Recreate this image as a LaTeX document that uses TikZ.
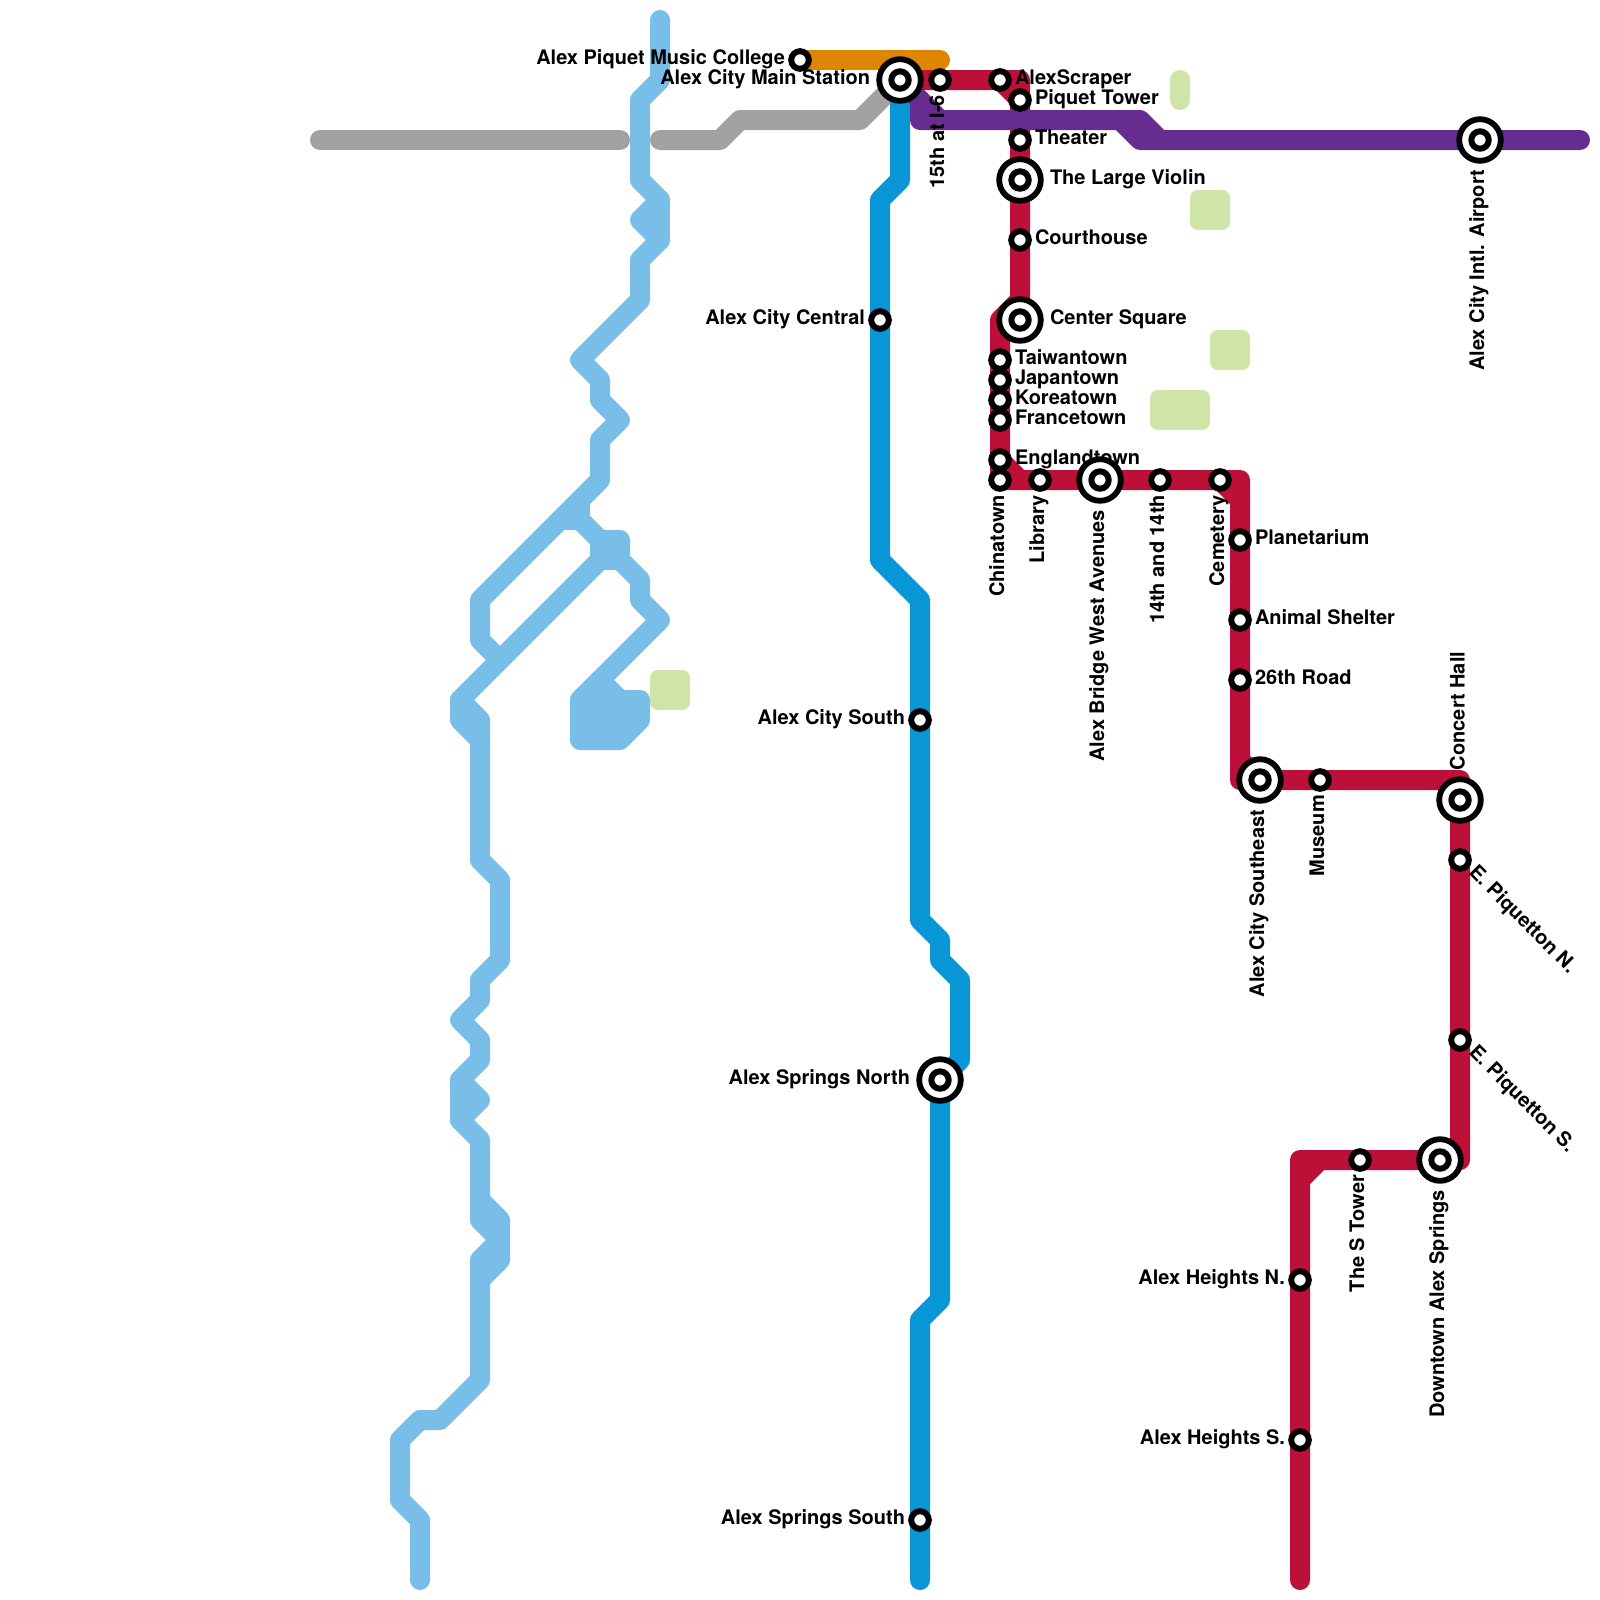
\documentclass[tikz,border=0pt]{standalone}
\usepackage{fontspec}
\setmainfont{TeX Gyre Heros}
\definecolor{cred}{HTML}{BD1038}
\definecolor{cblue}{HTML}{0896D7}
\definecolor{csky}{HTML}{79BDE9}
\definecolor{cpurple}{HTML}{662C90}
\definecolor{corange}{HTML}{DF8600}
\definecolor{cgray}{HTML}{A2A2A2}
\definecolor{cpark}{HTML}{CFE4A7}
\tikzset{
  metro/.style={line width=.5cm,line cap=round,line join=round},
  park/.style={fill=cpark,rounded corners=.2cm},
  lbl/.style={inner sep=0pt,outer sep=0pt,font=\fontsize{14.226}{17}\selectfont\bfseries},
  stnsmall/.style={circle,draw=black,fill=white,line width=.15cm,minimum size=.44cm,inner sep=0pt,outer sep=0pt},
  stnbig/.style={circle,draw=black,fill=white,line width=.145cm,minimum size=1.04cm,inner sep=0pt,outer sep=0pt},
  stnmid/.style={circle,draw=black,fill=white,line width=.15cm,minimum size=.435cm,inner sep=0pt,outer sep=0pt},
}
\newcommand\labR[2]{\node[lbl,anchor=base west] (t#1) at ([shift={(.375cm,-.122cm)}]#1) {#2};}
\newcommand\labRb[2]{\node[lbl,anchor=base west] (t#1) at ([shift={(.75cm,-.122cm)}]#1) {#2};}
\newcommand\labL[2]{\node[lbl,anchor=base east] (t#1) at ([shift={(-.375cm,-.122cm)}]#1) {#2};}
\newcommand\labLb[2]{\node[lbl,anchor=base east] (t#1) at ([shift={(-.75cm,-.122cm)}]#1) {#2};}
\newcommand\labD[2]{\node[lbl,anchor=base east,rotate=90] (t#1) at ([shift={(.1cm,-.375cm)}]#1) {#2};}
\newcommand\labDb[2]{\node[lbl,anchor=base east,rotate=90] (t#1) at ([shift={(.1cm,-.75cm)}]#1) {#2};}
\newcommand\labUb[2]{\node[lbl,anchor=base west,rotate=90] (t#1) at ([shift={(.115cm,.75cm)}]#1) {#2};}
\newcommand\labG[2]{\node[lbl,anchor=base west,rotate=-45] (t#1) at ([shift={(.2cm,-.335cm)}]#1) {#2};}
\newcommand\stS[1]{\node[stnsmall] (n#1) at (#1) {};}
\newcommand\stB[1]{\node[stnbig] (n#1) at (#1) {};\node[stnmid] (m#1) at (#1) {};}
\begin{document}
\begin{tikzpicture}[x=.5cm,y=-.5cm]
\useasboundingbox (0,0) rectangle (80,80);
\fill[white] (0,0) rectangle (80,80);
% parks
\fill[park,rounded corners=.25cm] (58.5,3.5) rectangle (59.5,5.5);
\fill[park] (59.5,9.5) rectangle (61.5,11.5);
\fill[park] (60.5,16.5) rectangle (62.5,18.5);
\fill[park] (57.5,19.5) rectangle (60.5,21.5);
\fill[park] (32.5,33.5) rectangle (34.5,35.5);
% river
\draw[metro,csky] (33,1)--(33,4)--(32,5)--(32,9)--(33,10)--(32,11)--(33,12)--(32,13)--(32,15)--(29,18)--(30,19)--(30,20)--(31,21)--(30,22)--(30,24)--(28,26)--(24,30)--(24,32)--(25,33);
\draw[metro,csky] (33,10)--(33,12);
\draw[metro,csky] (29,25)--(29,26)--(30,27)--(31,27)--(31,28)--(32,29)--(32,30)--(33,31)--(29,35);
\draw[metro,csky] (28,26)--(29,26);
\draw[metro,csky] (30,27)--(30,28)--(31,28);
\draw[metro,csky] (30,28)--(23,35)--(23,36)--(24,37)--(24,43)--(25,44)--(25,48)--(24,49)--(24,50)--(23,51)--(24,52)--(24,53)--(23,54)--(24,55)--(23,56)--(24,57)--(24,61)--(25,62)--(24,63)--(24,69)--(22,71)--(21,71)--(20,72)--(20,75)--(21,76)--(21,79);
\draw[metro,csky] (23,35)--(24,36)--(24,37);
\draw[metro,csky] (23,54)--(23,56);
\draw[metro,csky] (24,60)--(25,61)--(25,63)--(24,64);
\draw[metro,csky,fill=csky] (29,35)--(30,34)--(31,35)--(32,35)--(32,36)--(31,37)--(29,37)--cycle;
% lines
\draw[metro,cgray] (16,7)--(31,7);
\draw[metro,cgray] (33,7)--(36,7)--(37,6)--(43,6)--(45,4);
\draw[metro,corange] (40,3)--(47,3);
\draw[metro,cblue] (45,4)--(45,9)--(44,10)--(44,28)--(46,30)--(46,46)--(47,47)--(47,48)--(48,49)--(48,53)--(47,54)--(47,65)--(46,66)--(46,79);
\draw[metro,cred] (45,4)--(51,4)--(51,15)--(50,16)--(50,24)--(62,24)--(62,39)--(73,39)--(73,58)--(65,58)--(65,79);
\draw[metro,cred] (50,4)--(51,5);
\draw[metro,cred] (50,23)--(51,24);
\draw[metro,cred] (61,24)--(62,25);
\draw[metro,cred] (62,38)--(63,39);
\draw[metro,cred] (65,59)--(66,58);
\draw[metro,cred] (51,16)--(51,15);
\draw[metro,cpurple] (45,4)--(47,6);
\draw[metro,cpurple] (46,5)--(46,6)--(57,6)--(58,7)--(79,7);
\draw[metro,cpurple] (56,6)--(57,7)--(58,7);
% positions
\coordinate (piquetcollege) at (40,3);
\coordinate (mainstation) at (45,4);
\coordinate (fifteenth) at (47,4);
\coordinate (alexscraper) at (50,4);
\coordinate (piquettower) at (51,5);
\coordinate (theater) at (51,7);
\coordinate (largeviolin) at (51,9);
\coordinate (courthouse) at (51,12);
\coordinate (centersquare) at (51,16);
\coordinate (taiwantown) at (50,18);
\coordinate (japantown) at (50,19);
\coordinate (koreatown) at (50,20);
\coordinate (francetown) at (50,21);
\coordinate (englandtown) at (50,23);
\coordinate (chinatown) at (50,24);
\coordinate (library) at (52,24);
\coordinate (bridgewest) at (55,24);
\coordinate (fourteenth) at (58,24);
\coordinate (cemetery) at (61,24);
\coordinate (planetarium) at (62,27);
\coordinate (animalshelter) at (62,31);
\coordinate (twentysixth) at (62,34);
\coordinate (southeast) at (63,39);
\coordinate (museum) at (66,39);
\coordinate (concerthall) at (73,40);
\coordinate (piquettonn) at (73,43);
\coordinate (piquettons) at (73,52);
\coordinate (downtown) at (72,58);
\coordinate (stower) at (68,58);
\coordinate (heightsn) at (65,64);
\coordinate (heightss) at (65,72);
\coordinate (airport) at (74,7);
\coordinate (citycentral) at (44,16);
\coordinate (citysouth) at (46,36);
\coordinate (springsnorth) at (47,54);
\coordinate (springssouth) at (46,76);
% labels
\labL{piquetcollege}{Alex Piquet Music College}
\labLb{mainstation}{Alex City Main Station}
\labD{fifteenth}{15th at I-6}
\labR{alexscraper}{AlexScraper}
\labR{piquettower}{Piquet Tower}
\labR{theater}{Theater}
\labRb{largeviolin}{The Large Violin}
\labR{courthouse}{Courthouse}
\labRb{centersquare}{Center Square}
\labR{taiwantown}{Taiwantown}
\labR{japantown}{Japantown}
\labR{koreatown}{Koreatown}
\labR{francetown}{Francetown}
\labR{englandtown}{Englandtown}
\labD{chinatown}{Chinatown}
\labD{library}{Library}
\labDb{bridgewest}{Alex Bridge West Avenues}
\labD{fourteenth}{14th and 14th}
\labD{cemetery}{Cemetery}
\labR{planetarium}{Planetarium}
\labR{animalshelter}{Animal Shelter}
\labR{twentysixth}{26th Road}
\labDb{southeast}{Alex City Southeast}
\labD{museum}{Museum}
\labUb{concerthall}{Concert Hall}
\labG{piquettonn}{E. Piquetton N.}
\labG{piquettons}{E. Piquetton S.}
\labDb{downtown}{Downtown Alex Springs}
\labD{stower}{The S Tower}
\labL{heightsn}{Alex Heights N.}
\labL{heightss}{Alex Heights S.}
\labDb{airport}{Alex City Intl. Airport}
\labL{citycentral}{Alex City Central}
\labL{citysouth}{Alex City South}
\labLb{springsnorth}{Alex Springs North}
\labL{springssouth}{Alex Springs South}
% stations
\stS{piquetcollege}
\stB{mainstation}
\stS{fifteenth}
\stS{alexscraper}
\stS{piquettower}
\stS{theater}
\stB{largeviolin}
\stS{courthouse}
\stB{centersquare}
\stS{taiwantown}
\stS{japantown}
\stS{koreatown}
\stS{francetown}
\stS{englandtown}
\stS{chinatown}
\stS{library}
\stB{bridgewest}
\stS{fourteenth}
\stS{cemetery}
\stS{planetarium}
\stS{animalshelter}
\stS{twentysixth}
\stB{southeast}
\stS{museum}
\stB{concerthall}
\stS{piquettonn}
\stS{piquettons}
\stB{downtown}
\stS{stower}
\stS{heightsn}
\stS{heightss}
\stB{airport}
\stS{citycentral}
\stS{citysouth}
\stB{springsnorth}
\stS{springssouth}
\end{tikzpicture}
\end{document}
